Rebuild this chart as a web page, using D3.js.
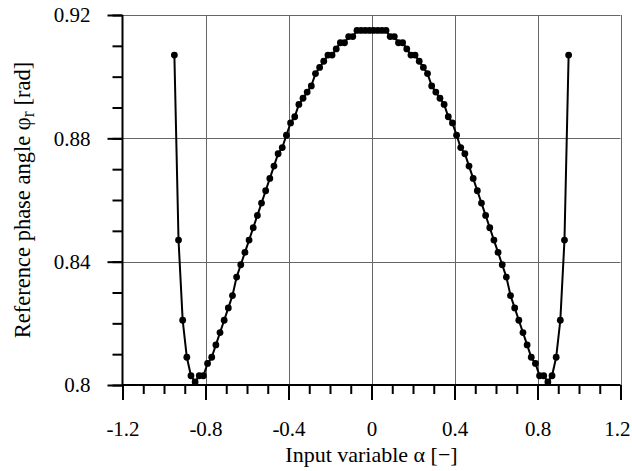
<!doctype html>
<html>
  <head>
    <meta charset="utf-8">
    <title>Reference phase angle</title>
    <script src="https://cdnjs.cloudflare.com/ajax/libs/d3/7.8.5/d3.min.js"></script>
    <style>
      body { margin: 0; background: #fff; }
      svg text { font-family: "Liberation Serif", "Times New Roman", serif; fill: #000; }
    </style>
  </head>
  <body>
    <div id="chart"></div>
    <script>
      // input variable alpha (step 0.02)
      const alpha = [
        -0.95, -0.93, -0.91, -0.89, -0.87, -0.85, -0.83, -0.81, -0.79, -0.77,
        -0.75, -0.73, -0.71, -0.69, -0.67, -0.65, -0.63, -0.61, -0.59, -0.57,
        -0.55, -0.53, -0.51, -0.49, -0.47, -0.45, -0.43, -0.41, -0.39, -0.37,
        -0.35, -0.33, -0.31, -0.29, -0.27, -0.25, -0.23, -0.21, -0.19, -0.17,
        -0.15, -0.13, -0.11, -0.09, -0.07, -0.05, -0.03, -0.01,
        0.01, 0.03, 0.05, 0.07, 0.09, 0.11, 0.13, 0.15, 0.17, 0.19,
        0.21, 0.23, 0.25, 0.27, 0.29, 0.31, 0.33, 0.35, 0.37, 0.39,
        0.41, 0.43, 0.45, 0.47, 0.49, 0.51, 0.53, 0.55, 0.57, 0.59,
        0.61, 0.63, 0.65, 0.67, 0.69, 0.71, 0.73, 0.75, 0.77, 0.79,
        0.81, 0.83, 0.85, 0.87, 0.89, 0.91, 0.93, 0.95
      ];
      // reference phase angle phi_r [rad]
      const phiR = [
        0.907, 0.847, 0.821, 0.809, 0.803, 0.801, 0.803, 0.803, 0.807, 0.809,
        0.813, 0.817, 0.821, 0.825, 0.829, 0.835, 0.839, 0.843, 0.847, 0.851,
        0.855, 0.859, 0.863, 0.867, 0.871, 0.875, 0.877, 0.881, 0.885, 0.887,
        0.891, 0.893, 0.895, 0.897, 0.901, 0.903, 0.905, 0.907, 0.907, 0.909,
        0.911, 0.911, 0.913, 0.913, 0.915, 0.915, 0.915, 0.915,
        0.915, 0.915, 0.915, 0.915, 0.913, 0.913, 0.911, 0.911, 0.909, 0.907,
        0.907, 0.905, 0.903, 0.901, 0.897, 0.895, 0.893, 0.891, 0.887, 0.885,
        0.881, 0.877, 0.875, 0.871, 0.867, 0.863, 0.859, 0.855, 0.851, 0.847,
        0.843, 0.839, 0.835, 0.829, 0.825, 0.821, 0.817, 0.813, 0.809, 0.807,
        0.803, 0.803, 0.801, 0.803, 0.809, 0.821, 0.847, 0.907
      ];
      const xTicks = [-1.2, -0.8, -0.4, 0, 0.4, 0.8, 1.2];
      const yTicks = [0.8, 0.84, 0.88, 0.92];

      const data = alpha.map((a, i) => ({ a: a, p: phiR[i] }));

      const W = 632, H = 471;
      const svg = d3.select('#chart').append('svg')
        .attr('width', W).attr('height', H);

      const x = d3.scaleLinear().domain([-1.2, 1.2]).range([122.5, 620.5]);
      const y = d3.scaleLinear().domain([0.8, 0.92]).range([385, 15]);

      // grid lines
      svg.append('g').selectAll('line.v')
        .data(xTicks.slice(1))
        .join('line')
        .attr('x1', d => Math.round(x(d)) + 0.5).attr('x2', d => Math.round(x(d)) + 0.5)
        .attr('y1', y(0.8)).attr('y2', y(0.92))
        .attr('stroke', '#666').attr('stroke-width', 1);
      svg.append('g').selectAll('line.h')
        .data(yTicks.slice(1))
        .join('line')
        .attr('y1', d => Math.round(y(d)) + 0.5).attr('y2', d => Math.round(y(d)) + 0.5)
        .attr('x1', x(-1.2)).attr('x2', x(1.2))
        .attr('stroke', '#666').attr('stroke-width', 1);

      // minor ticks
      const xMinor = d3.axisBottom(x).tickValues(d3.range(-12, 13).map(v => v / 10))
        .tickSize(9).tickFormat('');
      const yMinor = d3.axisLeft(y).tickValues(d3.range(80, 93).map(v => v / 100))
        .tickSize(10).tickFormat('');
      // major ticks
      const xAxis = d3.axisBottom(x).tickValues(xTicks).tickSize(15).tickPadding(21)
        .tickFormat(d => d === 0 ? '0' : d3.format('.1f')(d).replace('−', '-'));
      const yAxis = d3.axisLeft(y).tickValues(yTicks).tickSize(15).tickPadding(17)
        .tickFormat(d => d === 0.8 ? '0.8' : d3.format('.2f')(d));

      function styleAxis(g) {
        g.select('.domain').remove();
        g.selectAll('.tick line').attr('stroke', '#000').attr('stroke-width', 2);
        g.selectAll('.tick text').attr('font-size', 21)
          .attr('font-family', '"Liberation Serif", serif').attr('fill', '#000');
      }

      svg.append('g').attr('transform', `translate(0,${y(0.8)})`).call(xMinor).call(styleAxis);
      svg.append('g').attr('transform', `translate(${x(-1.2)},0)`).call(yMinor).call(styleAxis);
      const gx = svg.append('g').attr('transform', `translate(0,${y(0.8)})`).call(xAxis).call(styleAxis);
      svg.append('g').attr('transform', `translate(${x(-1.2)},0)`).call(yAxis).call(styleAxis);
      // keep the last label inside the page
      gx.selectAll('.tick text').filter(d => d === 1.2).attr('text-anchor', 'end').attr('x', 630 - x(1.2));

      // axis lines
      svg.append('line')
        .attr('x1', x(-1.2)).attr('x2', x(1.2)).attr('y1', y(0.8)).attr('y2', y(0.8))
        .attr('stroke', '#000').attr('stroke-width', 2);
      svg.append('line')
        .attr('x1', x(-1.2)).attr('x2', x(-1.2)).attr('y1', y(0.92)).attr('y2', y(0.8))
        .attr('stroke', '#000').attr('stroke-width', 2);

      // curve
      const line = d3.line().x(d => x(d.a)).y(d => y(d.p));
      svg.append('path').datum(data)
        .attr('d', line)
        .attr('fill', 'none').attr('stroke', '#000').attr('stroke-width', 2);
      svg.append('g').selectAll('circle')
        .data(data)
        .join('circle')
        .attr('cx', d => x(d.a)).attr('cy', d => y(d.p)).attr('r', 3.4)
        .attr('fill', '#000');

      // axis titles
      svg.append('text')
        .attr('x', (x(-1.2) + x(1.2)) / 2).attr('y', 462)
        .attr('text-anchor', 'middle').attr('font-size', 22)
        .text('Input variable α [−]');

      const yl = svg.append('text')
        .attr('transform', `translate(30,${(y(0.8) + y(0.92)) / 2}) rotate(-90)`)
        .attr('text-anchor', 'middle').attr('font-size', 22.5);
      yl.append('tspan').text('Reference phase angle φ');
      yl.append('tspan').attr('font-size', 18).attr('dy', 4).text('r');
      yl.append('tspan').attr('dy', -4).text(' [rad]');
    </script>
  </body>
</html>
